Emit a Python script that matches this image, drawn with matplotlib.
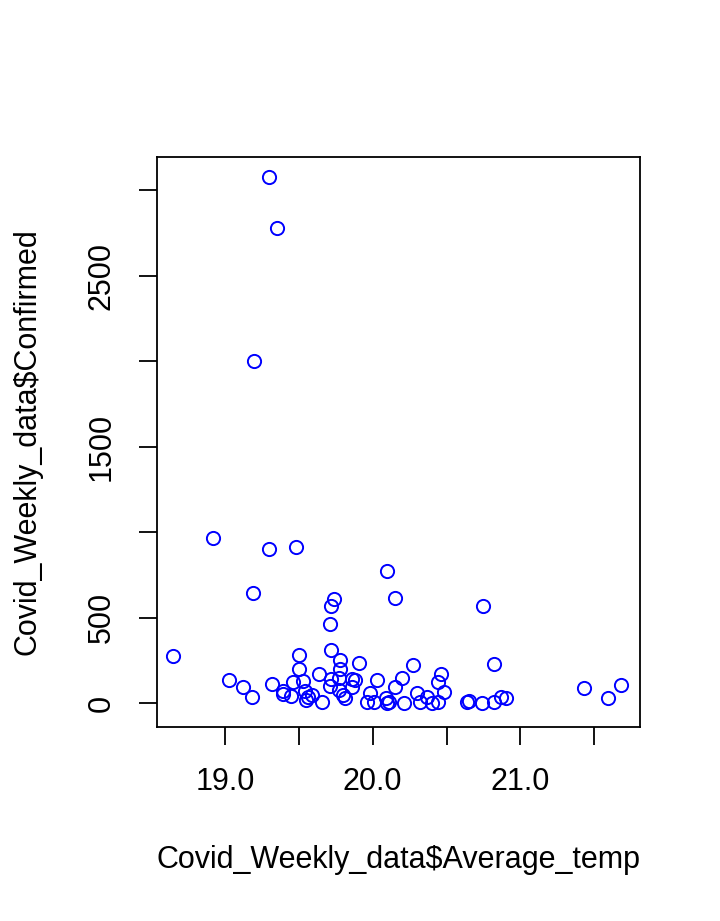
import numpy as np
import matplotlib
matplotlib.use('Agg')
import matplotlib.pyplot as plt

plt.rcParams['font.family'] = ['Liberation Sans', 'DejaVu Sans']

# Covid_Weekly_data: average temperature vs confirmed cases
avg_temp = [18.65, 18.92, 19.30, 19.35, 19.20, 19.30, 19.48, 19.19, 19.74, 19.72,
            19.71, 19.50, 19.72, 19.78, 19.91, 19.50, 19.78, 19.64, 19.03, 19.12,
            19.18, 19.32, 19.39, 19.39, 19.46, 19.53, 19.45, 19.54, 19.56, 19.59,
            19.55, 19.66, 19.71, 19.72, 19.77, 19.86, 19.88, 19.86, 19.77, 19.80,
            19.81, 20.03, 19.98, 19.96, 20.01, 20.15, 20.09, 20.11, 20.10, 20.15,
            20.75, 20.27, 20.82, 20.20, 20.46, 20.44, 20.10, 20.21, 20.30, 20.32,
            20.37, 20.40, 20.44, 20.48, 20.64, 20.65, 20.74, 20.82, 20.87, 20.90,
            21.43, 21.59, 21.68]
confirmed = [275, 965, 3078, 2779, 2000, 901, 912, 644, 608, 567,
             462, 281, 310, 252, 234, 199, 199, 170, 135, 94,
             35, 111, 70, 53, 123, 129, 41, 70, 35, 47,
             18, 6, 99, 140, 146, 140, 135, 94, 76, 47,
             29, 135, 58, 6, 6, 94, 29, 6, 772, 614,
             567, 222, 228, 146, 170, 123, 0, 0, 58, 6,
             35, 0, 6, 64, 6, 12, 0, 6, 35, 29,
             88, 29, 105]

fig = plt.figure(figsize=(7.2, 9.21), dpi=100)
ax = fig.add_axes([0.218, 0.2106, 0.671, 0.619])
ax.plot(avg_temp, confirmed, 'o', mfc='none', mec='blue', ms=9.5, mew=1.4)

ax.set_xlim(18.54, 21.81)
ax.set_ylim(-140, 3194)
ax.set_xticks([19.0, 19.5, 20.0, 20.5, 21.0, 21.5])
ax.set_xticklabels(['19.0', '', '20.0', '', '21.0', ''])
ax.set_yticks([0, 500, 1000, 1500, 2000, 2500, 3000])
ax.set_yticklabels(['0', '500', '', '1500', '', '2500', ''], rotation=90, va='center')
ax.tick_params(labelsize=22, length=13, width=1.3, pad=16)
for s in ax.spines.values():
    s.set_linewidth(1.3)
ax.set_xlabel('Covid_Weekly_data$Average_temp', fontsize=22, labelpad=34)
ax.set_ylabel('Covid_Weekly_data$Confirmed', fontsize=22, labelpad=32)

fig.savefig('out.png', dpi=100)
